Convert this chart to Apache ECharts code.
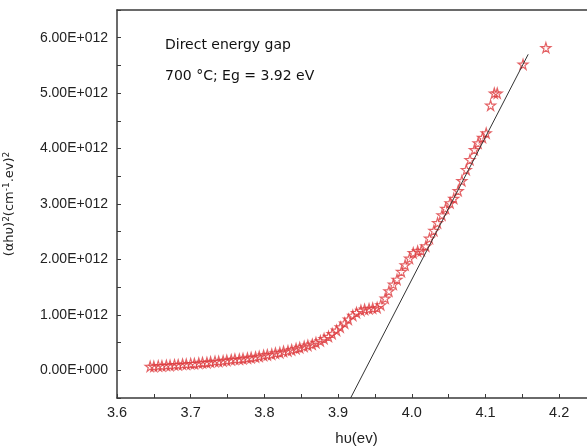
<!DOCTYPE html>
<html>
<head>
<meta charset="utf-8">
<script src="https://cdn.jsdelivr.net/npm/echarts@6/dist/echarts.min.js"></script>
<style>html,body{margin:0;padding:0;background:#fff;overflow:hidden;}#c{width:587px;height:447px;}</style>
</head>
<body>
<div id="c"></div>
<script>
// photon energy (eV)
const energy = [
  3.645, 3.650, 3.656, 3.661, 3.667, 3.672, 3.678, 3.683, 3.689, 3.694,
  3.700, 3.705, 3.711, 3.716, 3.722, 3.727, 3.733, 3.738, 3.744, 3.749,
  3.755, 3.760, 3.766, 3.771, 3.777, 3.782, 3.788, 3.793, 3.799, 3.804,
  3.810, 3.815, 3.821, 3.826, 3.832, 3.837, 3.843, 3.848, 3.854, 3.859,
  3.865, 3.870, 3.876, 3.881, 3.887, 3.892, 3.898, 3.903, 3.909, 3.914,
  3.920, 3.925, 3.931, 3.936, 3.942, 3.947, 3.953, 3.958, 3.964, 3.969,
  3.975, 3.980, 3.986, 3.991, 3.997, 4.002, 4.008, 4.013, 4.019, 4.024,
  4.030, 4.035, 4.041, 4.046, 4.052, 4.057, 4.063, 4.068, 4.074, 4.079,
  4.085, 4.090, 4.096, 4.101, 4.107, 4.112, 4.116, 4.151, 4.182
];
// (αhυ)^2 in units of 1E+12
const absorb = [
  0.07, 0.07, 0.08, 0.08, 0.09, 0.09, 0.10, 0.10, 0.11, 0.11,
  0.12, 0.12, 0.13, 0.14, 0.14, 0.15, 0.16, 0.16, 0.17, 0.18,
  0.19, 0.20, 0.20, 0.21, 0.22, 0.23, 0.24, 0.25, 0.27, 0.28,
  0.29, 0.31, 0.32, 0.34, 0.35, 0.37, 0.39, 0.41, 0.43, 0.45,
  0.47, 0.50, 0.53, 0.57, 0.61, 0.66, 0.72, 0.78, 0.85, 0.92,
  0.99, 1.04, 1.08, 1.10, 1.11, 1.12, 1.13, 1.18, 1.30, 1.43,
  1.55, 1.64, 1.78, 1.90, 2.02, 2.12, 2.15, 2.16, 2.24, 2.38,
  2.52, 2.66, 2.80, 2.92, 3.02, 3.10, 3.24, 3.42, 3.62, 3.80,
  3.98, 4.10, 4.20, 4.28, 4.78, 5.00, 5.00, 5.52, 5.82
];
// linear fit (Tauc extrapolation)
const fitX = [3.917, 4.158];
const fitY = [-0.5, 5.70];

const xTicks = ['3.6','3.7','3.8','3.9','4.0','4.1','4.2'];
const yTicks = ['0.00E+000','1.00E+012','2.00E+012','3.00E+012','4.00E+012','5.00E+012','6.00E+012'];

const star = 'path://M50,0 L61,35 L98,35 L68,57 L79,91 L50,70 L21,91 L32,57 L2,35 L39,35 Z';
const AX = '#3a3a3a';

const chart = echarts.init(document.getElementById('c'), null, {renderer: 'canvas'});
chart.setOption({
  animation: false,
  backgroundColor: '#fff',
  grid: {left: 117, top: 10, width: 479, height: 388, outerBoundsMode: 'none', containLabel: false, show: false},
  xAxis: [{
    type: 'value', min: 3.6, max: 4.25, interval: 0.05,
    axisLine: {show: true, onZero: false, lineStyle: {color: AX, width: 1.5}},
    axisTick: {show: true, inside: true, length: 4, lineStyle: {color: AX}},
    splitLine: {show: false},
    axisLabel: {
      margin: 7, color: '#222', fontFamily: 'Liberation Sans, Arial', fontSize: 14.5,
      showMaxLabel: false,
      formatter: function (v) {
        const lab = (Math.round(v * 100) % 10 === 0) ? v.toFixed(1) : '';
        return xTicks.indexOf(lab) >= 0 ? lab : '';
      }
    },
    name: 'hυ(ev)', nameLocation: 'middle', nameGap: 33,
    nameTextStyle: {color: '#222', fontFamily: 'Liberation Sans, Arial', fontSize: 15}
  }, {
    type: 'value', position: 'top', min: 3.6, max: 4.25,
    axisLine: {show: true, onZero: false, lineStyle: {color: AX, width: 1.5}},
    axisTick: {show: false}, axisLabel: {show: false}, splitLine: {show: false}
  }],
  yAxis: {
    type: 'value', min: -0.5, max: 6.5, interval: 0.5,
    axisLine: {show: true, onZero: false, lineStyle: {color: AX, width: 1.5}},
    axisTick: {show: true, inside: true, length: 4, lineStyle: {color: AX}},
    splitLine: {show: false},
    axisLabel: {
      margin: 9, color: '#222', fontFamily: 'Liberation Sans, Arial', fontSize: 14,
      formatter: function (v) {
        const r = Math.round(v * 2);
        if (r % 2 !== 0 || r < 0) return '';
        return yTicks[r / 2] || '';
      }
    },
    name: '(αhυ){s|2}(cm{s|-1}.ev){s|2}', nameLocation: 'middle', nameGap: 100, nameRotate: 90,
    nameTextStyle: {
      color: '#222', fontFamily: 'DejaVu Sans, Verdana', fontSize: 13,
      rich: {s: {fontSize: 9, verticalAlign: 'top', padding: [0, 0, 6, 0], fontFamily: 'DejaVu Sans, Verdana', color: '#222'}}
    }
  },
  graphic: [
    {type: 'text', left: 165, top: 38, style: {text: 'Direct energy gap', fontFamily: 'DejaVu Sans, Verdana', fontSize: 14, fill: '#111'}},
    {type: 'text', left: 165, top: 69, style: {text: '700 °C; Eg = 3.92 eV', fontFamily: 'DejaVu Sans, Verdana', fontSize: 14, fill: '#111'}},
    {type: 'rect', right: 0, top: 12, z: 100, silent: true, shape: {width: 3, height: 384}, style: {fill: '#fff'}}
  ],
  series: [
    {
      type: 'line', data: fitX.map((x, i) => [x, fitY[i]]), showSymbol: false, symbol: 'none',
      lineStyle: {color: '#333', width: 1}, z: 3, silent: true
    },
    {
      type: 'scatter', data: energy.map((x, i) => [x, absorb[i]]),
      symbol: star, symbolSize: 10,
      itemStyle: {color: 'rgba(255,255,255,0)', borderColor: '#dd3b3f', borderWidth: 1.2}, z: 2
    }
  ]
});
</script>
</body>
</html>
